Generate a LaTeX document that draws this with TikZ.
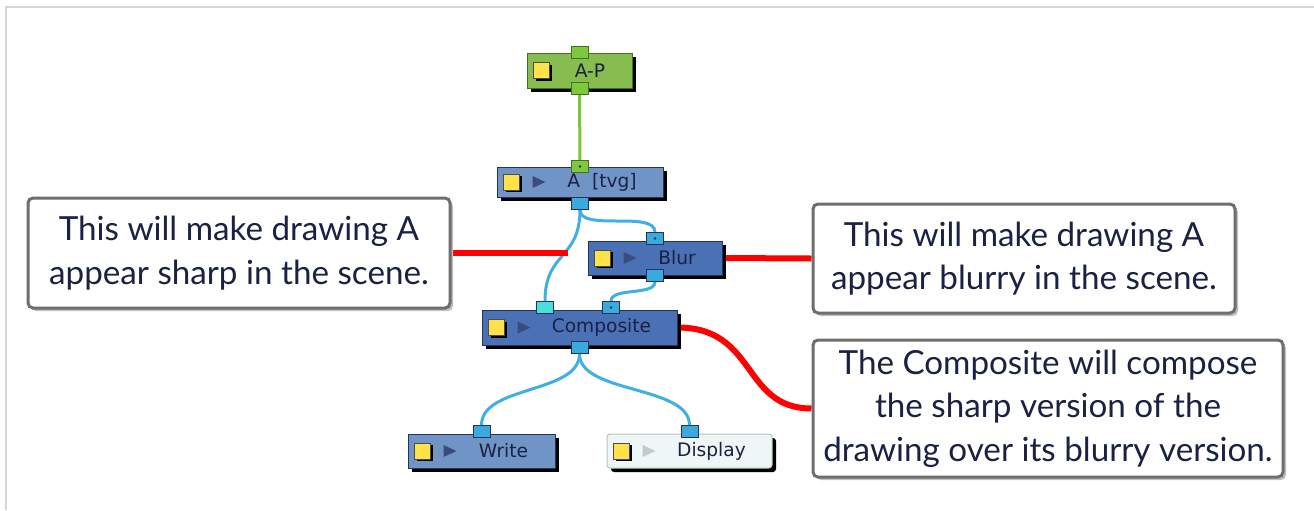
\documentclass[tikz,border=0pt]{standalone}
\usepackage{fontspec}
\setmainfont{Lato}
\newfontfamily\nodefont{DejaVu Sans}
\usepackage{tikz}
\usetikzlibrary{arrows.meta, positioning, shadows}
\pgfdeclarelayer{background}
\pgfsetlayers{background,main}
\definecolor{pegfill}{HTML}{86BD4E}
\definecolor{pegline}{HTML}{45702A}
\definecolor{drawfill}{HTML}{7094C6}
\definecolor{fxfill}{HTML}{4A71B6}
\definecolor{nodeline}{HTML}{22345A}
\definecolor{dispfill}{HTML}{EEF6F6}
\definecolor{displine}{HTML}{B4C4C4}
\definecolor{portblue}{HTML}{3AA9DD}
\definecolor{portcyan}{HTML}{48E0D8}
\definecolor{portgreen}{HTML}{7EC83C}
\definecolor{wireblue}{HTML}{3EB0E2}
\definecolor{wiregreen}{HTML}{7CC832}
\definecolor{notegray}{HTML}{6E6E6E}
\definecolor{framegray}{HTML}{D6D6D6}
\definecolor{lampyellow}{HTML}{FFE14A}
\definecolor{playdark}{HTML}{3A4C7E}
\definecolor{playlight}{HTML}{C2CACA}
\definecolor{textnavy}{HTML}{1A2142}
\tikzset{
    modulebox/.style={
        rectangle,
        draw=nodeline,
        line width=0.5pt,
        minimum height=17pt,
        inner sep=0pt,
        font=\nodefont\fontsize{9.3}{10}\selectfont,
        text=textnavy,
        drop shadow={shadow xshift=2pt, shadow yshift=-2pt, fill=black, opacity=1}
    },
    pegbox/.style={modulebox, fill=pegfill, draw=pegline},
    drawbox/.style={modulebox, fill=drawfill},
    fxbox/.style={modulebox, fill=fxfill},
    dispbox/.style={modulebox, fill=dispfill, draw=displine, rounded corners=1.5pt},
    port/.style={
        rectangle,
        draw=nodeline,
        line width=0.4pt,
        fill=portblue,
        minimum width=8.5pt,
        minimum height=6pt,
        inner sep=0pt
    },
    pegport/.style={port, fill=portgreen, draw=pegline},
    dotport/.style={path picture={\fill[nodeline] (path picture bounding box.center) circle (0.7pt);}},
    lamp/.style={
        rectangle,
        draw=black!70,
        fill=lampyellow,
        minimum size=8pt,
        inner sep=0pt,
        line width=0.4pt,
        drop shadow={shadow xshift=1pt, shadow yshift=-1pt, fill=black, opacity=1}
    },
    wire/.style={draw=wireblue, line width=1.5pt},
    pegwire/.style={draw=wiregreen, line width=1.5pt},
    notebox/.style={
        rectangle,
        rounded corners=2.5pt,
        draw=notegray,
        line width=1.5pt,
        fill=white,
        align=center,
        text=textnavy,
        font=\fontsize{16.6}{21.8}\selectfont,
        drop shadow={shadow xshift=1.5pt, shadow yshift=-1.5pt, fill=black!25, opacity=1}
    },
    redlink/.style={draw=red, line width=3pt}
}
\newcommand\nodeicons[2]{%
    \node[lamp] (#1lamp) at ([xshift=7.5pt]#1.west) {};
    \fill[#2] ([xshift=18pt,yshift=3pt]#1.west) -- ++(6.5pt,-3pt) -- ++(-6.5pt,-3pt) -- cycle;
}

\begin{document}
\begin{tikzpicture}[x=0.5pt, y=-0.5pt]
    \useasboundingbox (0,0) rectangle (1314,510);

    \node[pegbox, minimum width=52.5pt, minimum height=17.5pt] (ap) at (579.5,70.5) {\hspace*{10.5pt}A-P};
    \node[drawbox, minimum width=83pt, minimum height=15pt] (atvg) at (580,182) {\hspace*{22pt}A\hspace{6pt}[tvg]};
    \node[fxbox, minimum width=67pt] (blur) at (655,258) {\hspace*{22pt}Blur};
    \node[fxbox, minimum width=97.5pt, minimum height=17.5pt] (comp) at (579.5,327.5) {\hspace*{22pt}Composite};
    \node[drawbox, minimum width=73.5pt] (write) at (481.5,451) {\hspace*{22pt}Write};
    \node[dispbox, minimum width=82.5pt] (disp) at (689.5,451) {\hspace*{22pt}Display};

    \node[lamp] (aplamp) at ([xshift=7.5pt]ap.west) {};
    \nodeicons{atvg}{playdark}
    \nodeicons{blur}{playdark}
    \nodeicons{comp}{playdark}
    \nodeicons{write}{playdark}
    \nodeicons{disp}{playlight}

    \node[pegport] (apin) at (ap.north) {};
    \node[pegport] (apout) at (ap.south) {};
    \node[pegport, dotport] (ain) at (atvg.north) {};
    \node[port] (aout) at ([yshift=-3pt]atvg.south) {};
    \node[port, dotport] (blurin) at ([yshift=1pt]blur.north) {};
    \node[port] (blurout) at (blur.south) {};
    \node[port, fill=portcyan] (compinl) at ([xshift=-17.25pt,yshift=1pt]comp.north) {};
    \node[port, dotport] (compinr) at ([xshift=15.75pt,yshift=1pt]comp.north) {};
    \node[port] (compout) at ([yshift=-1pt]comp.south) {};
    \node[port] (writein) at ([yshift=1pt]write.north) {};
    \node[port] (dispin) at ([yshift=1pt]disp.north) {};

    \node[notebox, minimum width=211pt, minimum height=55pt] (sharpnote) at (239,253) {This will make drawing A\\appear sharp in the scene.};
    \node[notebox, minimum width=211pt, minimum height=54.5pt] (blurnote) at (1024,258.5) {This will make drawing A\\appear blurry in the scene.};
    \node[notebox, minimum width=235pt, minimum height=68.5pt] (compnote) at (1048,408.5) {The Composite will compose\\the sharp version of the\\drawing over its blurry version.};
    \coordinate (sharpend) at (568,253);

    \begin{pgfonlayer}{background}
        \draw[framegray, line width=1pt] (6,510) -- (6,7) -- (1314,7);
        \draw[pegwire] (apout) -- (ain);
        \draw[wire] (aout.south) .. controls +(0,50) and +(0,-50) .. (compinl.north);
        \draw[wire] (aout.south) .. controls +(0,22) and +(0,-22) .. (blurin.north);
        \draw[wire] (blurout.south) .. controls +(0,14) and +(0,-14) .. (compinr.north);
        \draw[wire] (compout.south) .. controls +(0,40) and +(0,-40) .. (writein.north);
        \draw[wire] (compout.south) .. controls +(0,40) and +(0,-40) .. (dispin.north);
        \draw[redlink] (sharpnote.east) -- (sharpend);
        \draw[redlink] (blur.east) -- (blurnote.west);
        \draw[redlink] (comp.east) .. controls +(80,0) and +(-70,0) .. (compnote.west);
    \end{pgfonlayer}
\end{tikzpicture}
\end{document}
